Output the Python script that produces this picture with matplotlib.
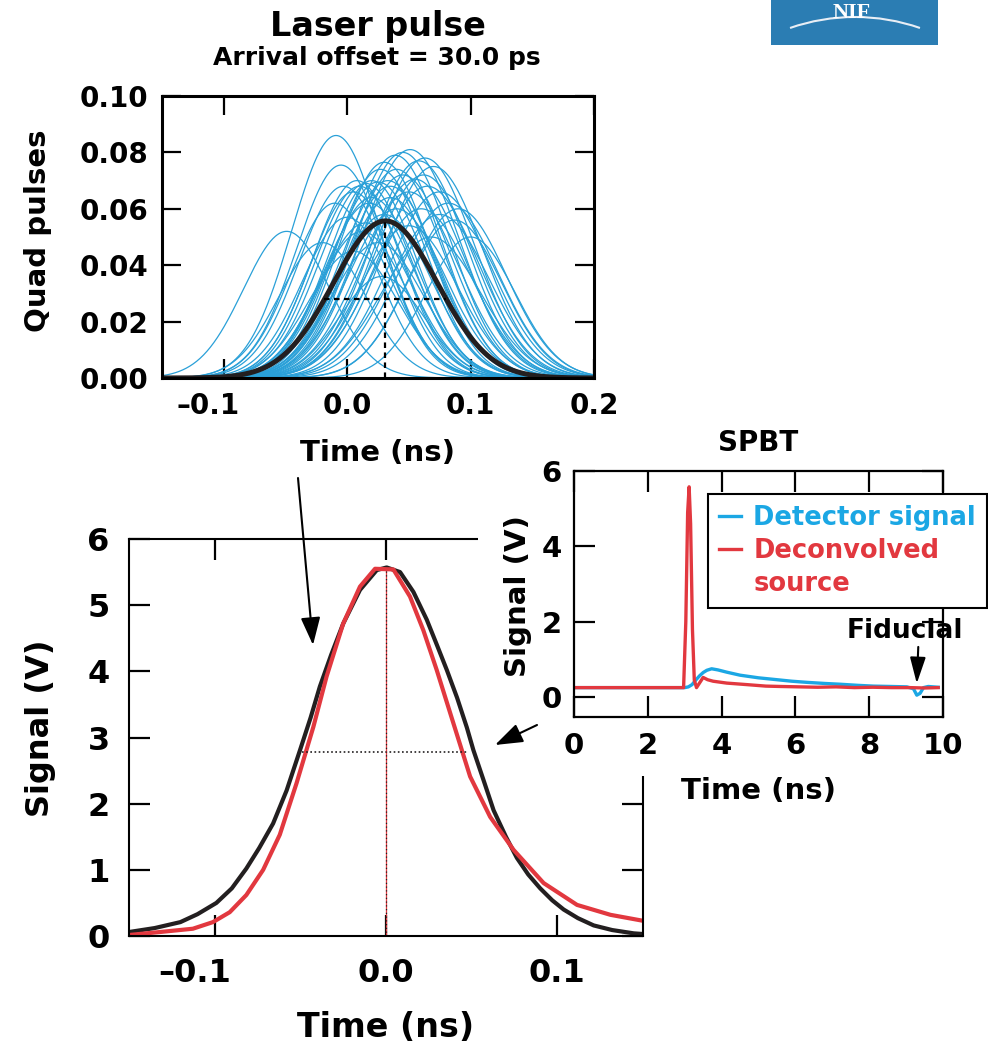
import numpy as np
import matplotlib
matplotlib.use("Agg")
import matplotlib.pyplot as plt
from matplotlib.patches import Rectangle, FancyArrowPatch, Arc
from matplotlib.lines import Line2D
from matplotlib.transforms import ScaledTranslation

plt.rcParams['font.family'] = ['DejaVu Sans']
plt.rcParams['font.weight'] = 'bold'

# ---- top panel: the 48 quad pulses (peak time ns, peak height, rms width ns)
quad_t0 = [-0.009, -0.049, -0.005, 0.051, 0.063, 0.039, 0.045, 0.030, 0.020, 0.015,
           0.025, 0.010, 0.005, 0.035, 0.055, 0.065, 0.082, 0.087, 0.075, 0.028,
           -0.010, 0.000, 0.015, 0.040, 0.060, 0.100, 0.045, 0.050, 0.020, 0.012,
           0.030, 0.070, 0.058, 0.040, 0.025, 0.005, 0.035, 0.075, -0.020, 0.018,
           0.050, 0.090, 0.008, 0.033, -0.003, 0.062, 0.027, 0.068]
quad_amp = [0.086, 0.052, 0.0755, 0.081, 0.078, 0.079, 0.080, 0.0765, 0.070, 0.069,
            0.0695, 0.068, 0.066, 0.068, 0.0705, 0.068, 0.062, 0.056, 0.058, 0.036,
            0.062, 0.057, 0.055, 0.060, 0.060, 0.050, 0.072, 0.066, 0.064, 0.052,
            0.058, 0.075, 0.077, 0.074, 0.048, 0.045, 0.064, 0.066, 0.048, 0.062,
            0.054, 0.060, 0.070, 0.070, 0.068, 0.072, 0.074, 0.050]
quad_sigma = [0.036, 0.035, 0.036, 0.040, 0.040, 0.038, 0.039, 0.037, 0.036, 0.037,
              0.038, 0.036, 0.035, 0.038, 0.040, 0.041, 0.040, 0.038, 0.040, 0.034,
              0.035, 0.036, 0.037, 0.039, 0.040, 0.036, 0.039, 0.040, 0.037, 0.036,
              0.038, 0.040, 0.039, 0.038, 0.037, 0.036, 0.038, 0.041, 0.035, 0.037,
              0.039, 0.039, 0.036, 0.038, 0.036, 0.040, 0.037, 0.040]

# average laser pulse (arrival offset 30 ps)
mean_t0 = 0.031
mean_amp = 0.0557
mean_sigma = 0.042

# ---- bottom panel: laser pulse vs deconvolved x-ray source
laser_t = [-0.150, -0.135, -0.120, -0.110, -0.099, -0.090, -0.0815, -0.074, -0.0659,
           -0.058, -0.0503, -0.044, -0.0386, -0.032, -0.025, -0.0152, -0.0054, 0.0004,
           0.0082, 0.016, 0.0238, 0.030, 0.0355, 0.0415, 0.0472, 0.051, 0.057, 0.0628,
           0.070, 0.0764, 0.083, 0.090, 0.097, 0.1037, 0.112, 0.1212, 0.132, 0.1446, 0.150]
laser_v = [0.06, 0.12, 0.21, 0.33, 0.50, 0.72, 1.02, 1.33, 1.70,
           2.20, 2.80, 3.30, 3.77, 4.25, 4.72, 5.23, 5.53, 5.57,
           5.50, 5.20, 4.78, 4.38, 4.02, 3.60, 3.15, 2.81, 2.35, 1.90,
           1.50, 1.18, 0.93, 0.72, 0.54, 0.40, 0.27, 0.16, 0.09, 0.04, 0.03]
decon_t = [-0.150, -0.132, -0.1127, -0.101, -0.0912, -0.0815, -0.0717, -0.062, -0.0522,
           -0.0424, -0.0347, -0.025, -0.0152, -0.0064, 0.0043, 0.014, 0.0218, 0.0296,
           0.0394, 0.0491, 0.0608, 0.0745, 0.092, 0.1115, 0.131, 0.150]
decon_v = [0.015, 0.06, 0.11, 0.21, 0.36, 0.62, 1.00, 1.53, 2.31,
           3.16, 3.92, 4.72, 5.28, 5.55, 5.54, 5.13, 4.62, 4.02,
           3.21, 2.41, 1.80, 1.30, 0.80, 0.47, 0.32, 0.23]
fwhm_span = [-0.049, 0.048]
fwhm_level = 2.78

# ---- SPBT inset
det_t = [0.0, 3.0, 3.1, 3.2, 3.3, 3.4, 3.5, 3.6, 3.73, 3.9, 4.14, 4.5, 5.0, 5.4, 5.9,
         6.31, 6.8, 7.21, 7.7, 8.11, 8.6, 9.02, 9.2, 9.29, 9.38, 9.47, 9.6, 9.87]
det_v = [0.25, 0.25, 0.27, 0.33, 0.45, 0.56, 0.65, 0.71, 0.75, 0.72, 0.66, 0.58, 0.51,
         0.47, 0.42, 0.39, 0.36, 0.34, 0.31, 0.29, 0.28, 0.27, 0.22, 0.05, 0.10, 0.25,
         0.28, 0.26]
src_t = [0.0, 2.97, 3.03, 3.08, 3.12, 3.16, 3.21, 3.26, 3.32, 3.42, 3.5, 3.62, 3.77,
         4.14, 4.68, 5.2, 5.6, 6.1, 6.6, 7.1, 7.6, 8.1, 8.6, 9.1, 9.5, 9.87]
src_v = [0.25, 0.25, 2.0, 4.9, 5.58, 4.6, 1.8, 0.45, 0.25, 0.40, 0.52, 0.46, 0.42,
         0.37, 0.33, 0.29, 0.28, 0.27, 0.26, 0.27, 0.25, 0.26, 0.25, 0.25, 0.24, 0.25]

BLUE = '#2aa0d8'
CYAN = '#1ba7e4'
RED = '#e2383f'
BLACK = '#231f20'

W, H = 988, 1043


def box(x0, y0, x1, y1):
    # pixel box (top-left origin) -> figure fraction rect
    return [x0 / W, 1 - y1 / H, (x1 - x0) / W, (y1 - y0) / H]


def inch(x, y):
    return (x / 100.0, (H - y) / 100.0)


def style_axes(ax, spine_w, tick_len, size, pad):
    for s in ax.spines.values():
        s.set_linewidth(spine_w)
    ax.tick_params(direction='in', top=True, right=True, length=tick_len,
                   width=1.6, labelsize=size, pad=pad)


def hang_dash(ax, dx_px):
    # the "-0.1" label hangs its dash to the left of the tick
    lab = ax.get_xticklabels()[0]
    lab.set_transform(lab.get_transform() +
                      ScaledTranslation(dx_px / 100.0, 0, fig.dpi_scale_trans))


fig = plt.figure(figsize=(W / 100, H / 100), dpi=100)

# ------------------------------------------------------------ top panel
ax1 = fig.add_axes(box(162, 96, 594, 378))
t = np.linspace(-0.15, 0.2, 500)
for t0, a, s in zip(quad_t0, quad_amp, quad_sigma):
    ax1.plot(t, a * np.exp(-(t - t0) ** 2 / (2 * s ** 2)), color=BLUE, lw=0.9)
ax1.plot(t, mean_amp * np.exp(-(t - mean_t0) ** 2 / (2 * mean_sigma ** 2)),
         color=BLACK, lw=3.6, solid_capstyle='round')
half = mean_sigma * np.sqrt(2 * np.log(2))
ax1.plot([mean_t0 - half, mean_t0 + half], [mean_amp / 2, mean_amp / 2],
         color='black', lw=1.6, ls=(0, (2.5, 2)))
ax1.plot([mean_t0, mean_t0], [0, mean_amp], color='black', lw=1.6, ls=(0, (2.5, 2)))
ax1.set_xlim(-0.15, 0.2)
ax1.set_ylim(0, 0.1)
ax1.set_xticks([-0.1, 0.0, 0.1, 0.2])
ax1.set_xticklabels(['\u20130.1', '0.0', '0.1', '0.2'])
ax1.set_yticks([0, 0.02, 0.04, 0.06, 0.08, 0.10])
ax1.set_yticklabels(['0.00', '0.02', '0.04', '0.06', '0.08', '0.10'])
style_axes(ax1, 2.2, 14, 20, 10)
hang_dash(ax1, -16)
ax1.set_xlabel('Time (ns)', fontsize=21, fontweight='bold', va='top')
ax1.xaxis.set_label_coords(0.5, -0.215)
ax1.set_ylabel('Quad pulses', fontsize=21, fontweight='bold')
ax1.yaxis.set_label_coords(-0.255, 0.521)
fig.text(378 / W, 1 - 36 / H, 'Laser pulse', fontsize=24, fontweight='bold',
         ha='center', va='baseline')
fig.text(377 / W, 1 - 65 / H, 'Arrival offset = 30.0 ps', fontsize=18,
         fontweight='bold', ha='center', va='baseline')

# ------------------------------------------------------------ bottom panel
ax2 = fig.add_axes(box(129, 539, 643, 936))
ax2.plot(laser_t, laser_v, color=BLACK, lw=3.0)
ax2.plot(decon_t, decon_v, color=RED, lw=3.0)
ax2.plot(fwhm_span, [fwhm_level, fwhm_level], color=BLACK, lw=1.2, ls=(0, (1, 1.5)))
ax2.plot([0, 0], [0, max(decon_v)], color=RED, lw=0.9)
ax2.plot([0, 0], [0, max(decon_v)], color=BLACK, lw=0.9, ls=(0, (1, 2)))
ax2.set_xlim(-0.15, 0.15)
ax2.set_ylim(0, 6)
ax2.set_xticks([-0.1, 0.0, 0.1])
ax2.set_xticklabels(['\u20130.1', '0.0', '0.1'])
ax2.set_yticks(range(7))
style_axes(ax2, 1.5, 15, 23, 14)
ax2.tick_params(axis='x', pad=16)
hang_dash(ax2, -20)
ax2.set_xlabel('Time (ns)', fontsize=24, fontweight='bold', va='top')
ax2.xaxis.set_label_coords(0.5, -0.19)
ax2.set_ylabel('Signal (V)', fontsize=23, fontweight='bold')
ax2.yaxis.set_label_coords(-0.142, 0.523)

# white panels that hide the corner of the bottom plot behind the inset
fig.add_artist(Rectangle((478 / W, 1 - 732 / H), 1 - 478 / W, (732 - 425) / H,
                         transform=fig.transFigure, facecolor='white',
                         edgecolor='none', zorder=1))
fig.add_artist(Rectangle((560 / W, 1 - 776 / H), 1 - 560 / W, (776 - 725) / H,
                         transform=fig.transFigure, facecolor='white',
                         edgecolor='none', zorder=1))

# ------------------------------------------------------------ SPBT inset
ax3 = fig.add_axes(box(574, 471, 943, 717))
ax3.set_zorder(2)
l_det, = ax3.plot(det_t, det_v, color=CYAN, lw=2.4)
l_src, = ax3.plot(src_t, src_v, color=RED, lw=2.4)
ax3.set_xlim(0, 10)
ax3.set_ylim(-0.53, 6)
ax3.set_xticks(range(0, 11, 2))
ax3.set_yticks([0, 2, 4, 6])
style_axes(ax3, 1.6, 15, 21, 9)
ax3.tick_params(axis='x', pad=11)
ax3.set_xlabel('Time (ns)', fontsize=21, fontweight='bold', va='top')
ax3.xaxis.set_label_coords(0.5, -0.245)
ax3.set_ylabel('Signal (V)', fontsize=21, fontweight='bold')
ax3.yaxis.set_label_coords(-0.115, 0.49)
ax3.text(0.5, 1.081, 'SPBT', transform=ax3.transAxes, fontsize=20,
         fontweight='bold', ha='center', va='baseline')

blank = Line2D([], [], color='none')
leg = ax3.legend([l_det, l_src, blank], ['Detector signal', 'Deconvolved', 'source'],
                 loc='upper left', bbox_to_anchor=(0.363, 0.9065), borderaxespad=0,
                 fontsize=18.5, handlelength=0.85, handletextpad=0.5,
                 labelspacing=0.28, borderpad=0.42, fancybox=False,
                 framealpha=1, edgecolor='black')
leg.get_frame().set_linewidth(1.5)
for txt, c in zip(leg.get_texts(), [CYAN, RED, RED]):
    txt.set_color(c)
    txt.set_fontweight('bold')

ax3.text(8.97, 1.57, 'Fiducial', fontsize=19, fontweight='bold',
         ha='center', va='baseline')
ax3.annotate('', xy=(9.29, 0.36), xytext=(9.33, 1.33),
             arrowprops=dict(arrowstyle='-|>,head_length=0.8,head_width=0.24',
                             color='black', lw=1.5, mutation_scale=20,
                             shrinkA=0, shrinkB=0))

# ------------------------------------------------------------ callout arrows
for tail, tip in [((298, 478), (313, 645)), ((537, 725), (495, 745))]:
    fig.add_artist(FancyArrowPatch(inch(*tail), inch(*tip),
                                   transform=fig.dpi_scale_trans,
                                   arrowstyle='-|>,head_length=0.85,head_width=0.3',
                                   mutation_scale=20, color='black', lw=1.5,
                                   shrinkA=0, shrinkB=0, zorder=3))

# ------------------------------------------------------------ NIF logo
fig.add_artist(Rectangle((771 / W, 1 - 45 / H), 167 / W, 45 / H + 0.01,
                         transform=fig.transFigure, facecolor='#2b7db3',
                         edgecolor='none', zorder=3))
fig.text(852 / W, 1 - 18 / H, 'NIF', fontsize=16, fontweight='bold',
         family='Liberation Serif', color='white', ha='center', va='baseline',
         zorder=4)
fig.add_artist(Arc(inch(855, 214.5), 3.95, 3.95, theta1=70.8, theta2=109.2,
                   transform=fig.dpi_scale_trans, color='#e8eef5', lw=1.5,
                   zorder=4))

fig.savefig('out.png', dpi=100)
